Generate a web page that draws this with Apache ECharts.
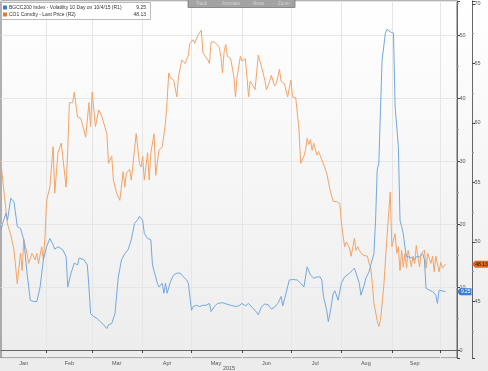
<!DOCTYPE html>
<html><head><meta charset="utf-8">
<script src="https://cdn.jsdelivr.net/npm/echarts@6/dist/echarts.min.js"></script>
<style>html,body{margin:0;padding:0;background:#fff}#c{width:488px;height:371px}</style>
</head><body><div id="c"></div>
<script>
// ---------- data ----------
const volName = 'BGCC200 Index - Volatility 10 Day on 10/4/15 (R1)';
const oilName = 'CO1 Comdty - Last Price (R2)';
const volLastText = '9.25';
const oilLastText = '48.13';
const axisStart = '2015-01-04';
const axisEnd = '2015-10-11';
const monthLabels = ['Jan','Feb','Mar','Apr','May','Jun','Jul','Aug','Sep'];
const monthLabelDays = ['01-18','02-15','03-16','04-16','05-16','06-16','07-16','08-16','09-15'];
const yearLabel = '2015';
const toolbarItems = ['Track','Annotate','News','Zoom'];

const volDates = [
 '01-04','01-05','01-07','01-08','01-10','01-12','01-13','01-14','01-16','01-18','01-20','01-22','01-24','01-26','01-27','01-28','01-30',
 '02-01','02-03','02-05','02-06','02-08','02-11','02-13','02-14','02-16','02-18','02-20','02-21','02-24','02-26','02-27','02-28',
 '03-02','03-04','03-06','03-08','03-10','03-11','03-13','03-15','03-17','03-19','03-21','03-23','03-25','03-27','03-29','03-30',
 '04-01','04-02','04-04','04-06','04-07','04-09','04-10','04-11','04-13','04-14','04-15','04-16','04-18','04-19','04-20','04-22','04-24','04-26','04-28','04-29',
 '05-01','05-02','05-04','05-06','05-08','05-10','05-12','05-13','05-15','05-17','05-20','05-25','05-28','05-30',
 '06-01','06-03','06-05','06-07','06-09','06-11','06-13','06-15','06-17','06-19','06-21','06-23','06-25','06-26','06-28','06-30',
 '07-02','07-05','07-07','07-09','07-11','07-13','07-15','07-17','07-19','07-20','07-21','07-23','07-24','07-25','07-27','07-28','07-30','07-31',
 '08-01','08-03','08-04','08-06','08-07','08-09','08-10','08-12','08-13','08-15','08-16','08-18','08-19','08-21','08-22','08-23','08-24','08-25','08-26','08-27','08-28','08-29','08-31',
 '09-02','09-03','09-05','09-06','09-07','09-08','09-09','09-10','09-13','09-15','09-16','09-18','09-20','09-21','09-22','09-24','09-26','09-28','09-29','09-30',
 '10-04'
];
const volValues = [
 19.0,20.1,21.7,20.6,24.1,23.5,23.3,19.6,19.3,17.5,12.2,7.9,7.7,7.7,7.4,10.0,14.3,
 16.4,17.7,16.7,16.0,16.4,15.9,14.8,10.0,12.2,13.8,13.5,14.6,14.3,13.5,10.0,5.8,
 5.3,5.0,4.5,4.0,3.4,4.0,4.2,5.8,11.6,14.3,15.3,15.9,17.5,20.1,20.7,21.2,
 20.6,18.5,17.7,17.5,13.5,11.6,10.6,10.0,10.6,9.0,10.6,9.0,10.8,11.4,11.9,12.2,12.2,11.6,11.1,10.6,
 6.3,6.9,7.1,6.9,7.1,7.1,7.4,6.1,6.9,7.4,7.5,7.1,6.9,7.0,
 7.4,7.0,7.4,6.8,6.3,5.6,6.9,7.3,7.2,6.5,6.8,7.4,8.5,7.0,9.0,11.1,
 11.2,11.1,10.6,10.0,13.2,11.9,11.4,11.6,11.6,11.1,8.5,6.3,4.5,5.8,9.0,9.4,7.9,7.7,
 10.6,11.6,11.7,12.2,11.9,13.0,13.0,10.6,8.7,10.3,11.4,12.4,13.5,15.3,20.6,28.6,29.6,38.0,46.0,48.1,50.3,50.9,50.5,
 50.3,38.6,32.3,20.6,19.6,18.5,16.4,14.8,14.7,14.3,14.8,14.8,15.3,14.3,9.8,9.5,9.3,8.7,7.4,9.5,
 9.25
];

const oilDates = [
 '01-04','01-06','01-08','01-10','01-12','01-14','01-16','01-17','01-18','01-20','01-21','01-23','01-25','01-26','01-27','01-29','01-30','01-31',
 '02-01','02-03','02-05','02-06','02-08','02-10','02-13','02-14','02-15','02-17','02-18','02-20','02-22','02-23','02-25','02-27','02-28',
 '03-01','03-03','03-05','03-07','03-10','03-11','03-13','03-14','03-16','03-18','03-20','03-21','03-22','03-24','03-25','03-28','03-30','03-31',
 '04-01','04-02','04-04','04-05','04-06','04-08','04-09','04-11','04-13','04-15','04-16','04-17','04-18','04-20','04-22','04-23','04-25','04-27','04-29','04-30',
 '05-02','05-03','05-05','05-06','05-07','05-08','05-11','05-12','05-13','05-15','05-16','05-18','05-19','05-20','05-21','05-22','05-23','05-25','05-27','05-28','05-29','05-31',
 '06-01','06-03','06-04','06-05','06-06','06-07','06-09','06-11','06-13','06-15','06-16','06-18','06-19','06-21','06-22','06-24','06-25','06-27','06-29',
 '07-01','07-02','07-04','07-06','07-07','07-09','07-10','07-11','07-12','07-13','07-14','07-15','07-17','07-18','07-20','07-21','07-23','07-25','07-27','07-29','07-31',
 '08-01','08-03','08-04','08-06','08-07','08-09','08-10','08-11','08-12','08-14','08-17','08-18','08-19','08-20','08-21','08-23','08-24','08-25','08-26','08-27','08-29','08-31',
 '09-01','09-03','09-04','09-05','09-06','09-07','09-08','09-09','09-10','09-11','09-13','09-14','09-15','09-16','09-18','09-19','09-21','09-22','09-23','09-25','09-26','09-27','09-28','09-30',
 '10-01','10-02','10-04'
];
const oilValues = [
 56.6,54.0,51.5,50.6,49.3,46.5,49.05,47.6,50.2,49.0,48.2,49.05,48.5,49.05,48.2,49.6,48.5,50.4,
 53.5,54.6,58.0,54.1,57.5,58.3,54.6,57.8,61.7,61.7,62.6,60.5,60.4,60.3,58.8,61.7,59.7,
 62.6,59.7,61.1,60.5,59.1,56.6,57.2,55.2,54.1,53.5,55.9,54.6,55.8,56.1,55.2,59.1,56.6,56.3,
 57.2,55.2,57.5,55.2,57.5,59.1,55.6,57.7,58.0,60.0,61.9,64.2,63.8,63.6,62.2,63.9,65.3,65.0,65.7,66.7,
 67.0,66.7,67.4,67.5,67.8,65.9,65.3,65.0,66.8,66.8,66.7,66.4,65.6,64.2,66.0,66.6,65.6,65.4,63.9,62.2,63.9,65.6,
 65.2,65.4,63.9,62.2,63.5,63.3,62.8,65.7,64.7,63.6,62.8,63.5,64.0,63.1,63.3,64.5,63.5,63.3,62.2,
 63.6,62.2,62.1,59.4,56.6,57.2,57.7,58.7,58.2,58.6,57.7,58.3,57.3,57.6,56.9,57.0,55.8,54.4,53.4,53.4,53.25,
 51.6,49.6,50.0,49.5,48.8,50.3,49.3,49.6,49.3,48.9,48.8,48.2,47.9,46.5,44.8,43.4,42.9,43.4,43.3,46.2,50.4,54.2,
 49.6,50.7,49.05,49.6,47.6,49.3,47.9,49.05,47.8,49.3,47.9,48.8,48.2,49.7,47.9,49.05,49.3,47.8,49.05,48.2,48.8,47.5,48.8,47.5,
 48.3,47.8,48.13
];

// ---------- build ----------
const pad = n => String(n).padStart(2, '0');
const categories = [];
for (let d = new Date(axisStart + 'T00:00:00Z'); d <= new Date(axisEnd + 'T00:00:00Z'); d.setUTCDate(d.getUTCDate() + 1)) {
  categories.push(pad(d.getUTCMonth() + 1) + '-' + pad(d.getUTCDate()));
}
const volData = volDates.map((d, i) => [d, volValues[i]]);
const oilData = oilDates.map((d, i) => [d, oilValues[i]]);
const isMonthStart = (i, v) => v.slice(3) === '01';

const FONT = 'Liberation Sans';
const BLUE = '#74a8de', ORANGE = '#f4a466';
const chart = echarts.init(document.getElementById('c'), null, {renderer: 'canvas'});
chart.setOption({
  animation: false,
  backgroundColor: new echarts.graphic.LinearGradient(0, 0, 0, 1, [
    {offset: 0, color: '#ffffff'}, {offset: 1, color: '#ececec'}
  ]),
  textStyle: {fontFamily: FONT},
  grid: {left: 1, right: 31, top: 1, bottom: 13, containLabel: false, outerBoundsMode: 'none',
    show: true, borderColor: '#666', borderWidth: 1, backgroundColor: 'transparent'},
  xAxis: {
    type: 'category', data: categories, boundaryGap: false,
    axisLine: {lineStyle: {color: '#666', width: 1}},
    axisTick: {show: true, interval: isMonthStart, length: 3, lineStyle: {color: '#444'}},
    axisLabel: {
      interval: (i, v) => monthLabelDays.includes(v), fontSize: 5.5, color: '#555', margin: 2.5,
      formatter: v => monthLabels[monthLabelDays.indexOf(v)] || ''
    },
    splitLine: {show: true, interval: isMonthStart, lineStyle: {color: '#e6e6e6', width: 1}},
    name: yearLabel, nameLocation: 'middle', nameGap: 7, nameMoveOverlap: false,
    nameTextStyle: {fontSize: 5.5, color: '#555', fontFamily: FONT, verticalAlign: 'top'}
  },
  yAxis: [
    {
      type: 'value', position: 'right', min: -1.27, max: 55.4, splitNumber: 5,
      axisLine: {show: true, lineStyle: {color: '#666', width: 1}},
      axisTick: {show: true, length: 3, lineStyle: {color: '#444'}},
      minorTick: {show: true, splitNumber: 2, length: 2, lineStyle: {color: '#999'}},
      axisLabel: {fontSize: 5.5, color: '#555', margin: 2.5, showMinLabel: false, showMaxLabel: false,
        formatter: v => (Math.abs(v % 10) < 1e-6 ? String(v) : '')},
      splitLine: {show: true, lineStyle: {color: '#e6e6e6', width: 1}}
    },
    {
      type: 'value', position: 'right', offset: 15, min: 40.25, max: 70.25, splitNumber: 6,
      axisLine: {show: true, lineStyle: {color: '#666', width: 1}},
      axisTick: {show: true, length: 3, lineStyle: {color: '#444'}},
      minorTick: {show: true, splitNumber: 2, length: 2, lineStyle: {color: '#999'}},
      axisLabel: {fontSize: 5.5, color: '#555', margin: 2.5, showMinLabel: false, showMaxLabel: false,
        formatter: v => (Math.abs(v % 5) < 1e-6 ? String(v) : '')},
      splitLine: {show: false}
    }
  ],
  series: [
    {name: oilName, type: 'line', yAxisIndex: 1, data: oilData, showSymbol: false,
     lineStyle: {color: ORANGE, width: 1}, itemStyle: {color: ORANGE}},
    {name: volName, type: 'line', yAxisIndex: 0, data: volData, showSymbol: false,
     lineStyle: {color: BLUE, width: 1}, itemStyle: {color: BLUE}}
  ]
});

// last-value tags, legend box and toolbar
const yVol = chart.convertToPixel({yAxisIndex: 0}, volValues[volValues.length - 1]);
const yOil = chart.convertToPixel({yAxisIndex: 1}, oilValues[oilValues.length - 1]);
function tag(x0, x1, y, fill, text, textColor) {
  return [
    {type: 'polygon', shape: {points: [[x0, y], [x0 + 3, y - 3.5], [x1, y - 3.5], [x1, y + 3.5], [x0 + 3, y + 3.5]]},
     style: {fill: fill}, z: 100},
    {type: 'text', x: (x0 + 3 + x1) / 2, y: y, z: 101,
     style: {text: text, fill: textColor, fontSize: 5, fontFamily: FONT, align: 'center', verticalAlign: 'middle'}}
  ];
}
const tb = [];
const tbX = [191, 217, 248, 273];
toolbarItems.forEach((t, i) => {
  tb.push({type: 'text', x: tbX[i] + 5, y: 3.5, z: 101,
    style: {text: t, fill: '#d4d4d4', fontSize: 4.5, fontFamily: FONT, verticalAlign: 'middle'}});
});
chart.setOption({
  graphic: [
    {type: 'rect', shape: {x: 188, y: -1, width: 107, height: 8.5}, style: {fill: '#a3a3a3', stroke: '#777', lineWidth: 0.8}, z: 100},
    ...tb,
    {type: 'rect', shape: {x: 1.5, y: 2.5, width: 149, height: 17}, style: {fill: '#ffffff', stroke: '#aaaaaa', lineWidth: 0.8}, z: 100},
    {type: 'rect', shape: {x: 3, y: 5.5, width: 4, height: 4}, style: {fill: '#3a7ed4'}, z: 101},
    {type: 'rect', shape: {x: 3, y: 12.5, width: 4, height: 4}, style: {fill: '#e07a2e'}, z: 101},
    {type: 'text', x: 9, y: 7.5, z: 101, style: {text: volName, fill: '#333', fontSize: 5, fontFamily: FONT, verticalAlign: 'middle'}},
    {type: 'text', x: 9, y: 14.5, z: 101, style: {text: oilName, fill: '#333', fontSize: 5, fontFamily: FONT, verticalAlign: 'middle'}},
    {type: 'text', x: 146, y: 7.5, z: 101, style: {text: volLastText, fill: '#333', fontSize: 5, fontFamily: FONT, align: 'right', verticalAlign: 'middle'}},
    {type: 'text', x: 146, y: 14.5, z: 101, style: {text: oilLastText, fill: '#333', fontSize: 5, fontFamily: FONT, align: 'right', verticalAlign: 'middle'}},
    ...tag(457, 471.5, yVol, '#3a7ed4', volLastText, '#ffffff'),
    ...tag(472, 488, yOil, '#dd6a1e', oilLastText, '#2a1200')
  ]
});
</script></body></html>
